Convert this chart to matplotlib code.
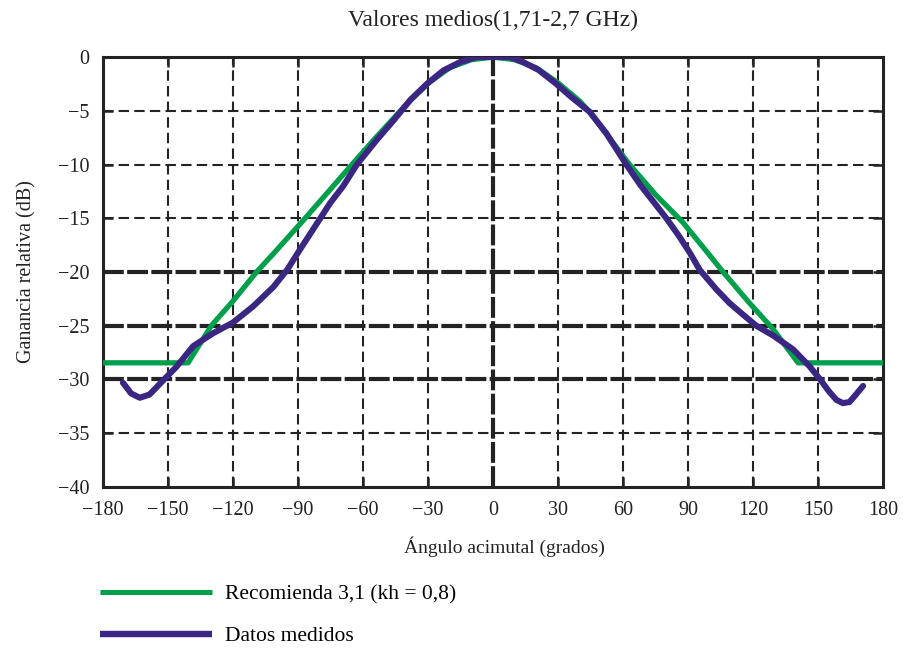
import matplotlib
matplotlib.use("Agg")
import matplotlib.pyplot as plt
from matplotlib.lines import Line2D

plt.rcParams['font.family'] = ['Liberation Serif', 'DejaVu Serif']
plt.rcParams['axes.unicode_minus'] = True

# --- data ---
rec_theta = [-180, -140.7, -130, -120, -109.1, -100, -86.7, -75, -65.1, -55, -42.7, -35, -29, -20, -10, 0,
             10, 20, 30, 40, 45, 63, 75, 87.7, 97, 106.2, 118, 129.2, 140.8, 180]
rec_gain = [-28.45, -28.45, -25.0, -22.7, -20.0, -18.0, -15.0, -12.3, -10.0, -7.7, -5.0, -3.4, -2.3, -1.0, -0.25, 0,
            -0.25, -1.0, -2.4, -4.1, -5.2, -10.0, -12.8, -15.4, -17.7, -20.0, -22.8, -25.3, -28.45, -28.45]

meas_theta = [-170.8, -167, -163, -158.5, -152.3, -146, -138.4, -129.2, -120, -110.7, -101.4, -95, -90,
              -81.3, -75.2, -69.1, -62.8, -53.6, -45.9, -38.2, -30.5, -22.8, -15.1, -7.4, 0, 7.7, 13.8, 21,
              29.2, 36, 44.6, 52.3, 61.5, 68, 73.8, 80, 86, 90.8, 95.4, 103, 109.2, 115, 121.5, 129.2, 138.5,
              146.2, 151, 155, 158.5, 161.5, 164.5, 167.5, 170.8]
meas_gain = [-30.3, -31.3, -31.7, -31.4, -30.1, -28.8, -26.9, -25.7, -24.7, -23.2, -21.4, -19.8, -18.2,
             -15.5, -13.6, -12.0, -10.0, -7.7, -5.9, -4.0, -2.5, -1.24, -0.46, 0, 0, 0, -0.46, -1.2,
             -2.5, -3.7, -5.1, -7.1, -10.0, -11.9, -13.4, -15.0, -16.7, -18.2, -19.8, -21.6, -22.9, -23.9,
             -25.0, -25.9, -27.2, -28.8, -30.0, -31.1, -31.9, -32.2, -32.1, -31.4, -30.6]

x_ticks = [-180, -150, -120, -90, -60, -30, 0, 30, 60, 90, 120, 150, 180]
y_ticks = [0, -5, -10, -15, -20, -25, -30, -35, -40]
strong_y = [-20, -25, -30]
strong_x = [0]

title = "Valores medios(1,71-2,7 GHz)"
xlabel = "Ángulo acimutal (grados)"
ylabel = "Ganancia relativa (dB)"
label_rec = "Recomienda 3,1 (kh = 0,8)"
label_meas = "Datos medidos"

green = "#00a04b"
purple = "#3b2683"
gridc = "#232323"

fig = plt.figure(figsize=(9.04, 6.48), dpi=100)
ax = fig.add_axes([0.1139, 0.2485, 0.8629, 0.6635])

ax.set_xlim(-180, 180)
ax.set_ylim(-40, 0)
ax.set_xticks(x_ticks)
ax.set_yticks(y_ticks)
ax.set_xticklabels([str(t).replace('-', '\u2212') for t in x_ticks])
ax.set_yticklabels([str(t).replace('-', '\u2212') for t in y_ticks])

# grid
for t in x_ticks[1:-1]:
    if t in strong_x:
        ax.axvline(t, color=gridc, lw=3.0, dashes=(5, 0.8), zorder=1)
    else:
        ax.axvline(t, color=gridc, lw=1.5, dashes=(5, 2.5), zorder=1)
for t in y_ticks[1:-1]:
    if t in strong_y:
        ax.axhline(t, color=gridc, lw=3.0, dashes=(5, 0.8), zorder=1)
    else:
        ax.axhline(t, color=gridc, lw=1.5, dashes=(5, 2.5), zorder=1)

ax.plot(rec_theta, rec_gain, color=green, lw=3.8, solid_capstyle='butt', solid_joinstyle='round',
        zorder=3, label=label_rec)
ax.plot(meas_theta, meas_gain, color=purple, lw=4.4, solid_capstyle='round', solid_joinstyle='round',
        zorder=4, label=label_meas)

for s in ax.spines.values():
    s.set_linewidth(2.2)
    s.set_color(gridc)
ax.tick_params(direction='in', length=7, width=1.8, top=True, right=True, labelsize=14.5,
               colors=gridc, labelcolor='#222222', pad=10)

ax.set_title(title, fontsize=17, pad=22, color='#222222')
ax.set_xlabel(xlabel, fontsize=14, labelpad=11, color='#222222')
ax.xaxis.set_label_coords(0.515, -0.115)
ax.set_ylabel(ylabel, fontsize=14.5, labelpad=15, color='#222222')

handles = [Line2D([], [], color=green, lw=3.6, solid_capstyle='butt'),
           Line2D([], [], color=purple, lw=4.6, solid_capstyle='butt')]
fig.legend(handles, [label_rec, label_meas], loc='upper left', bbox_to_anchor=(0.1106, 0.098),
           frameon=False, fontsize=15.5, handlelength=5.2, handletextpad=0.6,
           labelspacing=1.0, borderaxespad=0, borderpad=0)

fig.savefig("out.png", dpi=100)
